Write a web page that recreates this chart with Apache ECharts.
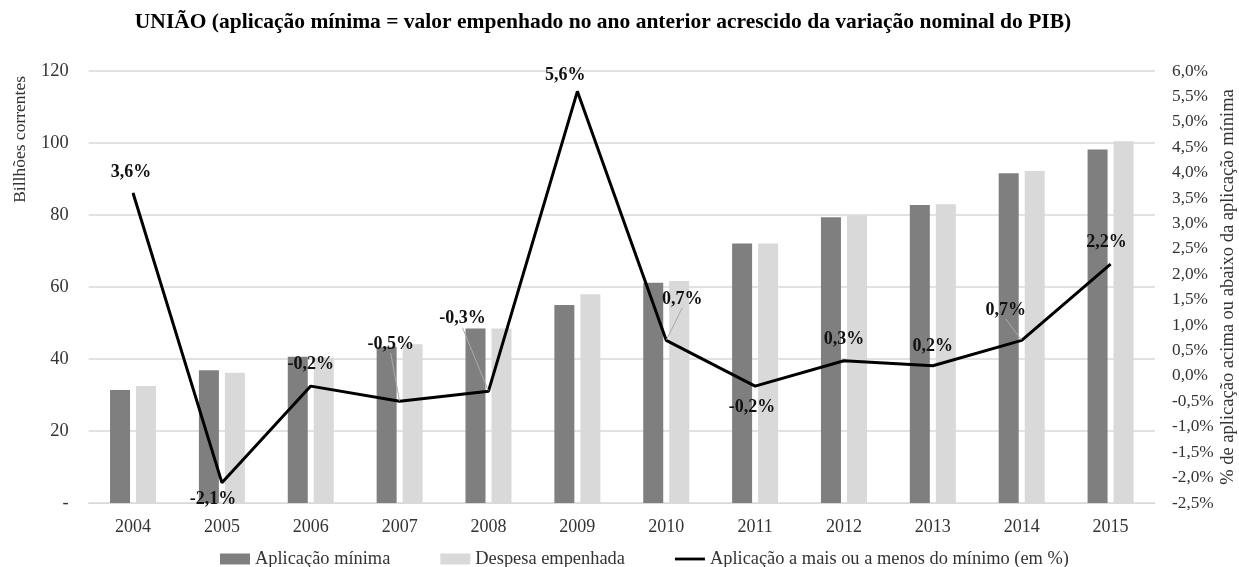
<!DOCTYPE html>
<html><head><meta charset="utf-8">
<script src="https://cdn.jsdelivr.net/npm/echarts@6/dist/echarts.min.js"></script>
<style>html,body{margin:0;padding:0;background:#fff}#c{width:1239px;height:567px}</style>
</head><body><div id="c"></div>
<script>
const categories = ['2004','2005','2006','2007','2008','2009','2010','2011','2012','2013','2014','2015'];
const aplicacaoMinima = [31.4, 36.9, 40.6, 43.4, 48.5, 55.0, 61.2, 72.1, 79.4, 82.8, 91.6, 98.2];
const despesaEmpenhada = [32.5, 36.2, 40.4, 44.1, 48.5, 58.0, 61.7, 72.1, 79.9, 83.0, 92.2, 100.5];
const aplicacaoPct = [3.6, -2.1, -0.2, -0.5, -0.3, 5.6, 0.7, -0.2, 0.3, 0.2, 0.7, 2.2];
const leftTicks = [0, 20, 40, 60, 80, 100, 120];

// label layout (style only)
const labelShift = [[-2,-6],[-9,31],[0,-7],[-9,-43],[-26,-58],[-12,-1],[16,-27],[-3,36],[0,-7],[0,-5],[-16,-16],[-4,-7]];
const leader = [false,false,false,true,true,false,true,false,false,false,true,false];

const FONT = '"Liberation Serif", "Times New Roman", serif';
const chart = echarts.init(document.getElementById('c'));
const fmtPct = v => v.toFixed(1).replace('.', ',') + '%';

chart.setOption({
  animation: false,
  textStyle: { fontFamily: FONT },
  title: {
    text: 'UNIÃO (aplicação mínima = valor empenhado no ano anterior acrescido da variação nominal do PIB)',
    left: 598, top: 6, textAlign: 'center',
    textStyle: { fontFamily: FONT, fontSize: 21.5, fontWeight: 'bold', color: '#000' }
  },
  graphic: [{
    type: 'text', left: 11, top: 76, rotation: Math.PI / 2,
    style: { text: 'Billhões correntes', font: '17.5px ' + FONT, fill: '#333' }
  }],
  legend: {
    top: 545, left: 215, itemGap: 50, itemWidth: 30, itemHeight: 11,
    textStyle: { fontFamily: FONT, fontSize: 18.4, color: '#333' },
    data: [
      { name: 'Aplicação mínima', icon: 'rect' },
      { name: 'Despesa empenhada', icon: 'rect' },
      { name: 'Aplicação a mais ou a menos do mínimo (em %)', icon: 'path://M0,4 L32,4 L32,7 L0,7 Z' }
    ]
  },
  grid: { left: 88.6, right: 84, top: 71, bottom: 64, outerBoundsMode: 'none', containLabel: false },
  xAxis: {
    type: 'category', data: categories,
    axisLine: { show: true, lineStyle: { color: '#d9d9d9' } },
    axisTick: { show: false },
    axisLabel: { fontFamily: FONT, fontSize: 18, color: '#333', margin: 15 }
  },
  yAxis: [{
    type: 'value', min: leftTicks[0], max: leftTicks[leftTicks.length - 1], interval: 20,
    axisLine: { show: false }, axisTick: { show: false },
    splitLine: { lineStyle: { color: '#d9d9d9', width: 1.5 } },
    axisLabel: { fontFamily: FONT, fontSize: 18.4, color: '#333', margin: 20,
      formatter: v => v === 0 ? '-' : String(v) }
  }, {
    type: 'value', min: -2.5, max: 6, interval: 0.5, position: 'right',
    axisLine: { show: false }, axisTick: { show: false }, splitLine: { show: false },
    axisLabel: { fontFamily: FONT, fontSize: 17.3, color: '#333', margin: 17, formatter: v => fmtPct(v) },
    name: '% de aplicação acima ou abaixo da aplicação mínima',
    nameLocation: 'middle', nameRotate: 90, nameGap: 73, nameMoveOverlap: false,
    nameTextStyle: { fontFamily: FONT, fontSize: 18.5, color: '#333', verticalAlign: 'middle' }
  }],
  series: [{
    name: 'Aplicação mínima', type: 'bar', data: aplicacaoMinima, barWidth: 20, barGap: '30%',
    itemStyle: { color: '#7f7f7f' }
  }, {
    name: 'Despesa empenhada', type: 'bar', data: despesaEmpenhada, barWidth: 20,
    itemStyle: { color: '#d9d9d9' }
  }, {
    name: 'Aplicação a mais ou a menos do mínimo (em %)', type: 'line', yAxisIndex: 1,
    data: aplicacaoPct.map((v, i) => ({ value: v, labelLine: { show: leader[i] } })),
    symbol: 'circle', symbolSize: 1, showSymbol: true,
    lineStyle: { color: '#000', width: 3 }, itemStyle: { color: '#000' },
    z: 5,
    label: { show: true, position: 'top', distance: 5, formatter: p => fmtPct(p.value),
      fontFamily: FONT, fontSize: 18, fontWeight: 'bold', color: '#111' },
    labelLine: { show: false, lineStyle: { color: '#aaaaaa', width: 1 } },
    labelLayout: p => ({ dx: labelShift[p.dataIndex][0], dy: labelShift[p.dataIndex][1] })
  }]
});
</script></body></html>
